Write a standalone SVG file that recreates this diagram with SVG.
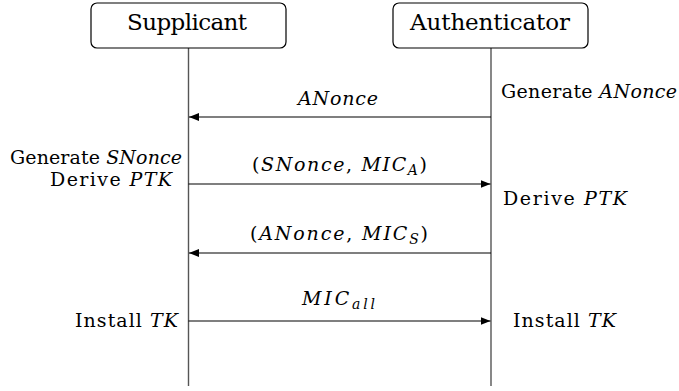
<svg xmlns="http://www.w3.org/2000/svg" width="679" height="391" viewBox="0 0 679 391" font-family="'DejaVu Serif', 'Liberation Serif', serif">
  <style>
    text { font-family: "DejaVu Serif", "Liberation Serif", serif; fill: #000; }
    .lbl { font-size: 19px; }
    .head { font-size: 23px; }
    .m { font-style: italic; }
    .sub { font-size: 14px; font-style: italic; }
    .box { fill: #fff; stroke: #000; stroke-width: 1.2; }
    .life { stroke: #555; stroke-width: 1.4; fill: none; }
    .msg { stroke: #000; stroke-width: 1.1; fill: none; marker-end: url(#tip); }
  </style>
  <defs>
    <marker id="tip" viewBox="0 0 10 8" refX="10" refY="4" markerWidth="10" markerHeight="8" markerUnits="userSpaceOnUse" orient="auto">
      <path d="M0,0 L10,4 L0,8 Z" fill="#000"/>
    </marker>
  </defs>

  <!-- lifelines -->
  <g id="lifelines">
    <line class="life" x1="188.5" y1="48" x2="188.5" y2="386"/>
    <line class="life" x1="491" y1="48" x2="491" y2="386"/>
  </g>

  <!-- participants -->
  <g id="supplicant">
    <rect class="box" x="91" y="3" width="195" height="45" rx="6" ry="6"/>
    <text class="head" x="127" y="30" textLength="120">Supplicant</text>
  </g>
  <g id="authenticator">
    <rect class="box" x="393" y="3" width="195" height="45" rx="6" ry="6"/>
    <text class="head" x="410" y="30" textLength="160">Authenticator</text>
  </g>

  <!-- messages -->
  <g id="connectors">
    <line class="msg" x1="491" y1="117" x2="189" y2="117"/>
    <line class="msg" x1="188.5" y1="184" x2="490.5" y2="184"/>
    <line class="msg" x1="491" y1="253" x2="189" y2="253"/>
    <line class="msg" x1="188.5" y1="321" x2="490.5" y2="321"/>
  </g>

  <g id="msg-anonce">
    <text class="lbl m" x="298" y="105" textLength="80">ANonce</text>
  </g>
  <g id="msg-snonce">
    <text class="lbl" x="252" y="171" textLength="175">(<tspan class="m">SNonce</tspan>, <tspan class="m">MIC</tspan><tspan class="sub" dy="4">A</tspan><tspan dy="-4">)</tspan></text>
  </g>
  <g id="msg-anonce-mic">
    <text class="lbl" x="250" y="240" textLength="178">(<tspan class="m">ANonce</tspan>, <tspan class="m">MIC</tspan><tspan class="sub" dy="4">S</tspan><tspan dy="-4">)</tspan></text>
  </g>
  <g id="msg-mic-all">
    <text class="lbl" x="302" y="305" textLength="73"><tspan class="m">MIC</tspan><tspan class="sub" dy="4">all</tspan></text>
  </g>

  <!-- actions on the supplicant side -->
  <g id="supplicant-actions">
    <text class="lbl" x="10" y="164" textLength="172">Generate <tspan class="m">SNonce</tspan></text>
    <text class="lbl" x="50" y="186" textLength="122">Derive <tspan class="m">PTK</tspan></text>
    <text class="lbl" x="75" y="327" textLength="103">Install <tspan class="m">TK</tspan></text>
  </g>

  <!-- actions on the authenticator side -->
  <g id="authenticator-actions">
    <text class="lbl" x="501" y="98" textLength="176">Generate <tspan class="m">ANonce</tspan></text>
    <text class="lbl" x="503" y="205" textLength="124">Derive <tspan class="m">PTK</tspan></text>
    <text class="lbl" x="513" y="327" textLength="103">Install <tspan class="m">TK</tspan></text>
  </g>
</svg>
